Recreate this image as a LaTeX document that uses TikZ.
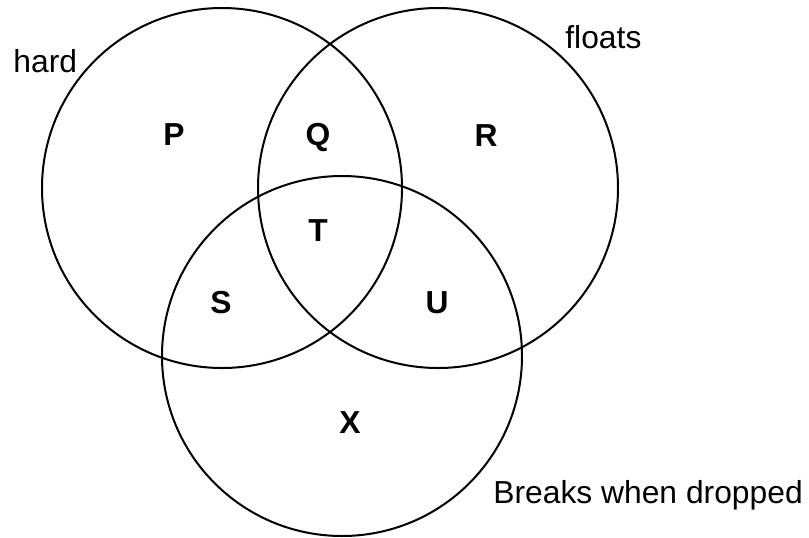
\documentclass[tikz,border=0pt]{standalone}
\usepackage{fontspec}
\setmainfont{Liberation Sans}
\usepackage{tikz}

\begin{document}
\begin{tikzpicture}[
            x = 0.5pt, y = -0.5pt, % one unit per pixel of the sketch
            font = \fontsize{15.9}{19}\selectfont,
            set/.style = {draw, circle, minimum size = 180pt, inner sep = 0pt, line width = 1pt},
            region/.style = {font = \fontsize{15.9}{19}\selectfont\bfseries, anchor = base, inner sep = 0pt},
            tag/.style = {anchor = base west, inner sep = 0pt}
        ]
	\useasboundingbox (0,0) rectangle (809,537);

	% the three sets
	\node[set] (hard) at (222,188) {};
	\node[set] (floats) at (438,188) {};
	\node[set] (breaks) at (342,356) {};

	% set names
	\node[tag] (hardname) at (13,72) {hard};
	\node[tag] (floatsname) at (565,48) {floats};
	\node[tag] (breaksname) at (493,503) {Breaks when dropped};

	% regions
	\node[region] (P) at (174,145) {P};
	\node[region] (Q) at (318,145) {Q};
	\node[region] (R) at (486,146) {R};
	\node[region] (T) at (318,241) {T};
	\node[region] (S) at (221,313) {S};
	\node[region] (U) at (437,313) {U};
	\node[region] (X) at (350,433) {X};

\end{tikzpicture}
\end{document}
